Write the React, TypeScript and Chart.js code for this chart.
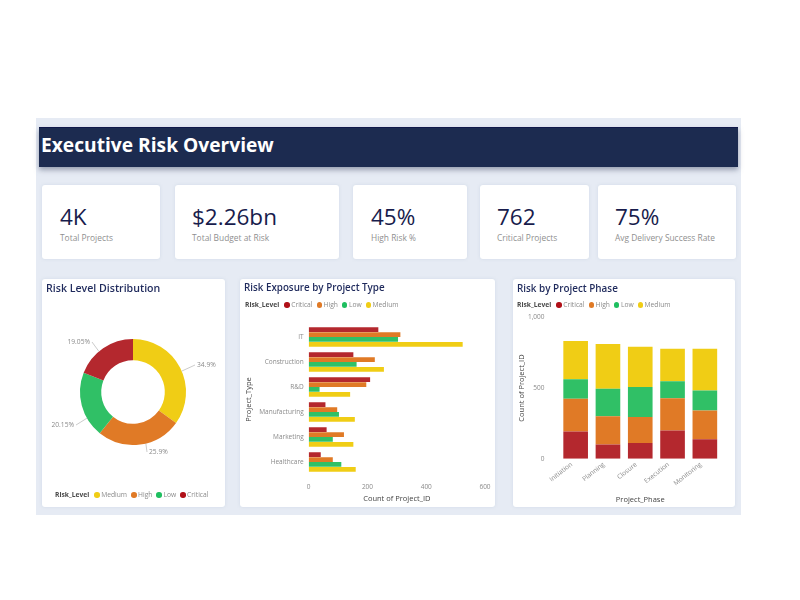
import React, { useEffect, useRef } from "react";
import { Chart, registerables } from "chart.js";

Chart.register(...registerables);

const FONT = '"Open Sans", sans-serif';
const PAGE_TITLE = "Executive Risk Overview";

const kpiValues = ["4K", "$2.26bn", "45%", "762", "75%"];
const kpiLabels = ["Total Projects", "Total Budget at Risk", "High Risk %", "Critical Projects", "Avg Delivery Success Rate"];

const donutLevels = ["Medium", "High", "Low", "Critical"];
const donutShares = [34.9, 25.9, 20.15, 19.05];

const stackLevels = ["Critical", "High", "Low", "Medium"];

const projectTypes = ["IT", "Construction", "R&D", "Manufacturing", "Marketing", "Healthcare"];
const typeCritical = [237, 152, 209, 57, 61, 41];
const typeHigh = [312, 225, 196, 97, 120, 82];
const typeLow = [304, 163, 37, 103, 82, 111];
const typeMedium = [524, 256, 141, 157, 152, 160];

const projectPhases = ["Initiation", "Planning", "Closure", "Execution", "Monitoring"];
const phaseCritical = [193, 101, 111, 200, 137];
const phaseHigh = [231, 199, 184, 227, 203];
const phaseLow = [137, 195, 212, 120, 143];
const phaseMedium = [271, 316, 285, 231, 295];

const COLORS: Record<string, string> = { Critical: "#b4282e", High: "#e07a26", Low: "#30c066", Medium: "#f0cd15" };
const DOT_COLORS: Record<string, string> = { Critical: "#b01018", High: "#e07a26", Low: "#1fbf60", Medium: "#f0cd15" };
const TICK = "#8a8a8a";
const AXIS_TITLE = "#444444";

// label placement of the donut (style only), relative to the donut centre
const donutLabelPlaces = [
  { x: 63, y: -27, align: "left" },
  { x: 15, y: 60, align: "left" },
  { x: -58, y: 33, align: "right" },
  { x: -42, y: -50, align: "right" },
];

const donutLabelsPlugin = {
  id: "donutLabels",
  afterDatasetsDraw(chart: any) {
    const arc = chart.getDatasetMeta(0).data[0];
    const { x: cx, y: cy, outerRadius: r } = arc;
    const ctx = chart.ctx;
    ctx.save();
    ctx.font = `6.7px ${FONT}`;
    ctx.textBaseline = "middle";
    donutShares.forEach((v, i) => {
      const p = donutLabelPlaces[i];
      const len = Math.hypot(p.x, p.y);
      const sx = cx + (p.x / len) * r;
      const sy = cy + (p.y / len) * r;
      const tx = cx + p.x;
      const ty = cy + p.y;
      ctx.strokeStyle = "#a8a8a8";
      ctx.lineWidth = 0.6;
      ctx.beginPath();
      ctx.moveTo(sx, sy);
      ctx.lineTo(p.align === "left" ? tx - 1 : tx + 1, ty);
      ctx.stroke();
      ctx.fillStyle = TICK;
      ctx.textAlign = p.align;
      ctx.fillText(`${v}%`, p.align === "left" ? tx + 1 : tx - 1, ty);
    });
    ctx.restore();
  },
};

function useChart(make: (c: HTMLCanvasElement) => Chart) {
  const ref = useRef<HTMLCanvasElement>(null);
  useEffect(() => {
    const chart = make(ref.current!);
    return () => chart.destroy();
  }, []);
  return ref;
}

const fixedSize = (dim: "width" | "height", size: number) => (scale: any) => {
  scale[dim] = size;
  scale.paddingLeft = 0;
  scale.paddingRight = 0;
  scale.paddingTop = 0;
  scale.paddingBottom = 0;
};

function Canvas({ make, w, h }: { make: (c: HTMLCanvasElement) => Chart; w: number; h: number }) {
  const ref = useChart(make);
  return (
    <div style={{ position: "absolute", left: 0, top: 0, width: w, height: h }}>
      <canvas ref={ref} width={w} height={h} style={{ display: "block", width: w, height: h }} />
    </div>
  );
}

function Legend({ items, x, y, gap }: { items: string[]; x: number; y: number; gap: number }) {
  return (
    <div style={{ position: "absolute", left: x, top: y - 6, height: 12, display: "flex", alignItems: "center", fontSize: 6.7, lineHeight: "12px", whiteSpace: "nowrap" }}>
      <span style={{ fontWeight: 700, color: "#4a4a4a", marginRight: 5 }}>Risk_Level</span>
      {items.map((it) => (
        <span key={it} style={{ display: "flex", alignItems: "center", marginRight: gap, color: TICK }}>
          <span style={{ width: 5.5, height: 5.5, borderRadius: "50%", background: DOT_COLORS[it], marginRight: 1.5 }} />
          {it}
        </span>
      ))}
    </div>
  );
}

function Card({ x, y, w, h, children }: any) {
  return (
    <div style={{ position: "absolute", left: x, top: y, width: w, height: h, background: "#fff", borderRadius: 3, boxShadow: "0 0 3px rgba(190,200,220,.5)" }}>
      {children}
    </div>
  );
}

const cardTitle = (text: string, left: number, size: number) => (
  <div style={{ position: "absolute", left, top: 1, fontSize: size, lineHeight: "16px", color: "#1f2a5c", fontWeight: 600, whiteSpace: "nowrap", zIndex: 2 }}>{text}</div>
);

const makeDonut = (c: HTMLCanvasElement) =>
  new Chart(c, {
    type: "doughnut",
    data: {
      labels: donutLevels,
      datasets: [{ data: donutShares, backgroundColor: donutLevels.map((l) => COLORS[l]), borderWidth: 0 }],
    },
    options: {
      responsive: false,
      animation: false,
      cutout: "60%",
      layout: { padding: { left: 38, right: 39, top: 60, bottom: 62 } },
      plugins: { legend: { display: false }, tooltip: { enabled: false } },
    },
    plugins: [donutLabelsPlugin],
  } as any);

const tickFont = { family: FONT, size: 6.5 };
const titleFont = { family: FONT, size: 7.5 };

const makeTypeBars = (c: HTMLCanvasElement) =>
  new Chart(c, {
    type: "bar",
    data: {
      labels: projectTypes,
      datasets: [
        { label: "Critical", data: typeCritical, backgroundColor: COLORS.Critical },
        { label: "High", data: typeHigh, backgroundColor: COLORS.High },
        { label: "Low", data: typeLow, backgroundColor: COLORS.Low },
        { label: "Medium", data: typeMedium, backgroundColor: COLORS.Medium },
      ],
    },
    options: {
      indexAxis: "y",
      responsive: false,
      animation: false,
      datasets: { bar: { categoryPercentage: 0.79, barPercentage: 0.97 } },
      layout: { padding: { left: 4, right: 10, top: 45.5, bottom: 4 } },
      plugins: { legend: { display: false }, tooltip: { enabled: false } },
      scales: {
        x: {
          min: 0,
          max: 600,
          afterFit: fixedSize("height", 28.5),
          grid: { display: false, drawTicks: false },
          border: { display: false },
          ticks: { stepSize: 200, color: TICK, font: tickFont, padding: 9, maxRotation: 0 },
          title: { display: true, text: "Count of Project_ID", color: AXIS_TITLE, font: titleFont, padding: { top: 0, bottom: 0 } },
        },
        y: {
          afterFit: fixedSize("width", 64.7),
          grid: { display: false, drawTicks: false },
          border: { display: false },
          ticks: { color: TICK, font: tickFont, padding: 5, autoSkip: false },
          title: { display: true, text: "Project_Type", color: AXIS_TITLE, font: titleFont, padding: { top: 0, bottom: 0 } },
        },
      },
    },
  } as any);

const makePhaseBars = (c: HTMLCanvasElement) =>
  new Chart(c, {
    type: "bar",
    data: {
      labels: projectPhases,
      datasets: [
        { label: "Critical", data: phaseCritical, backgroundColor: COLORS.Critical },
        { label: "High", data: phaseHigh, backgroundColor: COLORS.High },
        { label: "Low", data: phaseLow, backgroundColor: COLORS.Low },
        { label: "Medium", data: phaseMedium, backgroundColor: COLORS.Medium },
      ],
    },
    options: {
      responsive: false,
      animation: false,
      datasets: { bar: { categoryPercentage: 0.763, barPercentage: 1 } },
      layout: { padding: { left: 4, right: 14, top: 38.3, bottom: 3 } },
      plugins: { legend: { display: false }, tooltip: { enabled: false } },
      scales: {
        x: {
          stacked: true,
          afterFit: fixedSize("height", 45.3),
          grid: { display: false, drawTicks: false },
          border: { display: false },
          ticks: { color: TICK, font: tickFont, minRotation: 38, maxRotation: 38, padding: 2, labelOffset: -4, autoSkip: false },
          title: { display: true, text: "Project_Phase", color: AXIS_TITLE, font: titleFont, padding: { top: 0, bottom: 0 } },
        },
        y: {
          stacked: true,
          min: 0,
          max: 1000,
          afterFit: fixedSize("width", 42.5),
          grid: { display: false, drawTicks: false },
          border: { display: false },
          ticks: { stepSize: 500, color: TICK, font: tickFont, padding: 15 },
          title: { display: true, text: "Count of Project_ID", color: AXIS_TITLE, font: titleFont, padding: { top: 0, bottom: 0 } },
        },
      },
    },
  } as any);

const kpiBoxes = [
  { x: 42, w: 118, tx: 18 },
  { x: 175, w: 164, tx: 17 },
  { x: 353, w: 114, tx: 18 },
  { x: 480, w: 109, tx: 17 },
  { x: 598, w: 138, tx: 17 },
];

export default function App() {
  Chart.defaults.font.family = FONT;
  return (
    <div style={{ position: "absolute", left: 0, top: 0, width: 800, height: 600, overflow: "hidden", background: "#fff", fontFamily: FONT, filter: "blur(0.3px)" }}>
      <div style={{ position: "absolute", left: 36, top: 118, width: 705, height: 397, background: "#e6ebf4" }} />
      <div style={{ position: "absolute", left: 39, top: 127, width: 699, height: 40, background: "#1c2b50", boxShadow: "0 3px 5px rgba(90,100,125,.55)", borderTop: "1px solid #10184a", boxSizing: "border-box" }}>
        <div style={{ position: "absolute", left: 2, top: 3, fontSize: 19.2, lineHeight: "28px", fontWeight: 700, color: "#fff", whiteSpace: "nowrap" }}>{PAGE_TITLE}</div>
      </div>
      {kpiBoxes.map((b, i) => (
        <Card key={kpiLabels[i]} x={b.x} y={185} w={b.w} h={74}>
          <div style={{ position: "absolute", left: b.tx, top: 16, fontSize: 22.5, lineHeight: "32px", color: "#181c4c", whiteSpace: "nowrap" }}>{kpiValues[i]}</div>
          <div style={{ position: "absolute", left: b.tx, top: 47, fontSize: 8.4, lineHeight: "12px", color: "#8f8f8f", whiteSpace: "nowrap" }}>{kpiLabels[i]}</div>
        </Card>
      ))}
      <Card x={42} y={279} w={183} h={228}>
        <Canvas make={makeDonut} w={183} h={228} />
        {cardTitle("Risk Level Distribution", 4, 10.6)}
        <Legend items={donutLevels} x={13} y={216} gap={4} />
      </Card>
      <Card x={240} y={279} w={255} h={228}>
        <Canvas make={makeTypeBars} w={255} h={228} />
        {cardTitle("Risk Exposure by Project Type", 4, 9.8)}
        <Legend items={stackLevels} x={5} y={26} gap={4} />
      </Card>
      <Card x={513} y={279} w={222} h={228}>
        <Canvas make={makePhaseBars} w={222} h={228} />
        {cardTitle("Risk by Project Phase", 4, 9.9)}
        <Legend items={stackLevels} x={4} y={26} gap={4} />
      </Card>
    </div>
  );
}
